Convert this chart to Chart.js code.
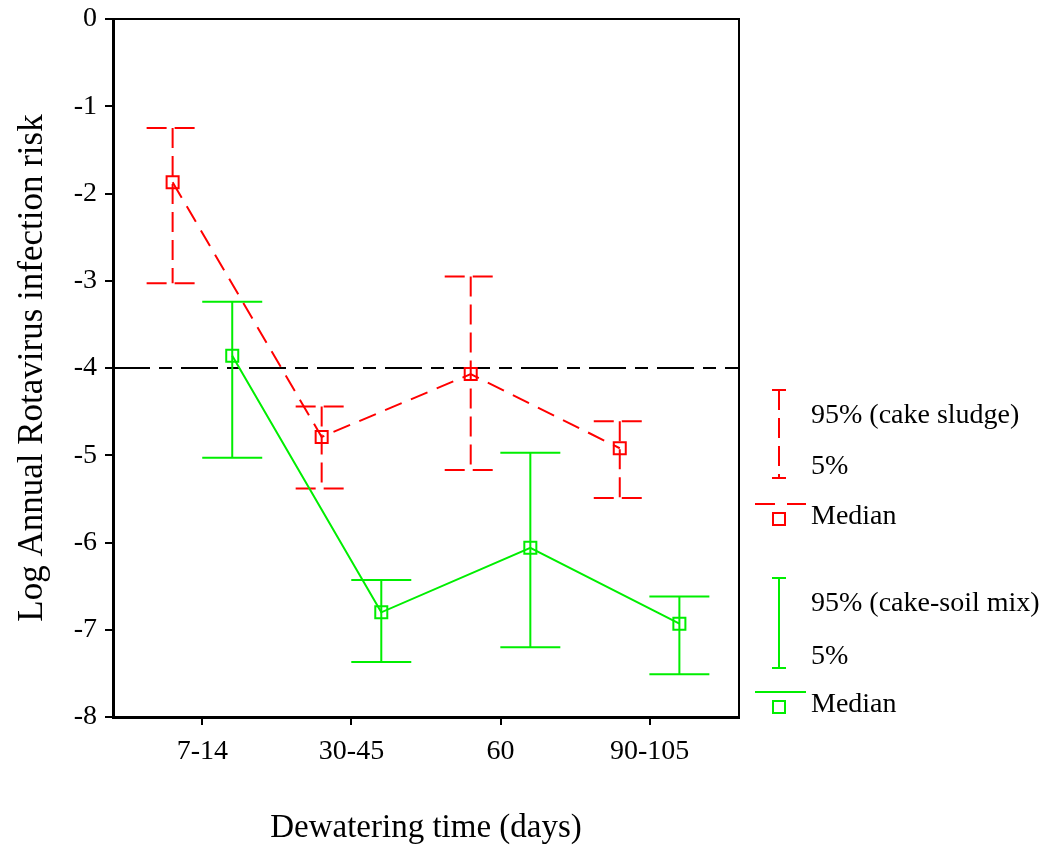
<!DOCTYPE html>
<html>
<head>
<meta charset="utf-8">
<script src="https://cdn.jsdelivr.net/npm/chart.js@4.4.0/dist/chart.umd.min.js"></script>
<style>
  html, body { margin: 0; padding: 0; background: #fff; }
  #wrap { width: 1047px; height: 850px; }
</style>
</head>
<body>
<div id="wrap"><canvas id="riskChart"></canvas></div>
<script>
// values (log10 annual infection risk)
const categories = ['7-14', '30-45', '60', '90-105'];
const sludgeMedian = [-1.87, -4.79, -4.07, -4.92];
const sludgeP95 = [-1.25, -4.44, -2.95, -4.61];
const sludgeP5 = [-3.03, -5.38, -5.17, -5.49];
const mixMedian = [-3.86, -6.80, -6.06, -6.93];
const mixP95 = [-3.24, -6.43, -4.97, -6.62];
const mixP5 = [-5.03, -7.37, -7.20, -7.51];
const yTicks = [0, -1, -2, -3, -4, -5, -6, -7, -8];
const threshold = -4;

const RED = '#ff0000';
const GREEN = '#00ee00';
const FONT = "'Liberation Serif', 'DejaVu Serif', serif";
const SHIFT = 0.2; // sludge left of the category, mix to the right

function points(values, shift) {
  return values.map((v, i) => ({ x: i + 1 + shift, y: v }));
}

function drawBars(ctx, x, y, hi, lo, shift, color, dash, half) {
  ctx.strokeStyle = color;
  ctx.lineWidth = 2;
  ctx.setLineDash(dash);
  hi.forEach((h, i) => {
    const px = x.getPixelForValue(i + 1 + shift);
    const top = y.getPixelForValue(h);
    const bot = y.getPixelForValue(lo[i]);
    ctx.beginPath();
    ctx.moveTo(px, top); ctx.lineTo(px, bot);
    ctx.moveTo(px - half, top); ctx.lineTo(px + half, top);
    ctx.moveTo(px - half, bot); ctx.lineTo(px + half, bot);
    ctx.stroke();
  });
}

const errorBars = {
  id: 'errorBars',
  beforeDatasetsDraw(chart) {
    const { ctx, chartArea, scales: { x, y } } = chart;
    ctx.save();
    ctx.strokeStyle = '#000';
    ctx.lineWidth = 2;
    ctx.setLineDash([37, 9, 13, 9]);
    const ty = y.getPixelForValue(threshold);
    ctx.beginPath();
    ctx.moveTo(chartArea.left, ty);
    ctx.lineTo(chartArea.right, ty);
    ctx.stroke();
    drawBars(ctx, x, y, sludgeP95, sludgeP5, -SHIFT, RED, [20, 8], 26);
    drawBars(ctx, x, y, mixP95, mixP5, SHIFT, GREEN, [], 30);
    ctx.restore();
  }
};

function legendGroup(ctx, sx, tx, top, bot, lineY, sqY, color, dash, label) {
  ctx.strokeStyle = color;
  ctx.lineWidth = 2;
  ctx.setLineDash(dash);
  ctx.beginPath();
  ctx.moveTo(sx, top); ctx.lineTo(sx, bot);
  ctx.stroke();
  ctx.setLineDash([]);
  ctx.beginPath();
  ctx.moveTo(sx - 7, top); ctx.lineTo(sx + 7, top);
  ctx.moveTo(sx - 7, bot); ctx.lineTo(sx + 7, bot);
  ctx.stroke();
  ctx.setLineDash(dash.length ? [20, 12] : []);
  ctx.beginPath();
  ctx.moveTo(sx - 24, lineY); ctx.lineTo(sx + 27, lineY);
  ctx.stroke();
  ctx.setLineDash([]);
  ctx.strokeRect(sx - 6, sqY - 6, 12, 12);
  ctx.fillText(label, tx, top + 26);
  ctx.fillText('5%', tx, bot - 11);
  ctx.fillText('Median', tx, sqY - 2);
}

const legendBox = {
  id: 'legendBox',
  afterDraw(chart) {
    const { ctx, chartArea } = chart;
    const sx = chartArea.right + 40;
    const tx = chartArea.right + 72;
    ctx.save();
    // top and right sides of the frame
    ctx.strokeStyle = '#000';
    ctx.lineWidth = 2;
    ctx.beginPath();
    ctx.moveTo(chartArea.left, chartArea.top);
    ctx.lineTo(chartArea.right, chartArea.top);
    ctx.lineTo(chartArea.right, chartArea.bottom);
    ctx.stroke();

    ctx.font = '28px ' + FONT;
    ctx.fillStyle = '#000';
    ctx.textBaseline = 'middle';
    ctx.textAlign = 'left';
    legendGroup(ctx, sx, tx, 390, 478, 504, 519, RED, [20, 8], '95% (cake sludge)');
    legendGroup(ctx, sx, tx, 578, 668, 692, 707, GREEN, [], '95% (cake-soil mix)');
    ctx.restore();
  }
};

const ctx = document.getElementById('riskChart').getContext('2d');
const riskChart = new Chart(ctx, {
  type: 'line',
  data: {
    datasets: [{
      label: 'Median (cake sludge)',
      data: points(sludgeMedian, -SHIFT),
      borderColor: RED,
      borderWidth: 2,
      borderDash: [18, 10],
      pointStyle: 'rect',
      pointRadius: 8.5,
      pointBorderWidth: 2,
      pointBorderColor: RED,
      pointBackgroundColor: 'rgba(0,0,0,0)',
      fill: false,
      tension: 0
    }, {
      label: 'Median (cake-soil mix)',
      data: points(mixMedian, SHIFT),
      borderColor: GREEN,
      borderWidth: 2,
      pointStyle: 'rect',
      pointRadius: 8.5,
      pointBorderWidth: 2,
      pointBorderColor: GREEN,
      pointBackgroundColor: 'rgba(0,0,0,0)',
      fill: false,
      tension: 0
    }]
  },
  options: {
    responsive: true,
    maintainAspectRatio: false,
    animation: false,
    layout: { padding: { top: 19, right: 308, left: 0, bottom: 0 } },
    plugins: {
      legend: { display: false },
      tooltip: { enabled: false }
    },
    scales: {
      x: {
        type: 'linear',
        min: 0.4,
        max: 4.6,
        afterBuildTicks: s => { s.ticks = categories.map((c, i) => ({ value: i + 1 })); },
        afterFit: s => { s.height = 133; s.paddingLeft = 0; s.paddingRight = 0; },
        ticks: {
          callback: v => categories[Math.round(v) - 1],
          font: { family: FONT, size: 28 },
          color: '#000',
          padding: 10,
          maxRotation: 0,
          autoSkip: false
        },
        grid: { drawOnChartArea: false, drawTicks: true, tickLength: 8, color: '#000', lineWidth: 2 },
        border: { display: true, color: '#000', width: 3 },
        title: {
          display: true,
          text: 'Dewatering time (days)',
          font: { family: FONT, size: 33, lineHeight: 1.33 },
          color: '#000',
          padding: 0
        }
      },
      y: {
        min: -8,
        max: 0,
        afterBuildTicks: s => { s.ticks = [...yTicks].sort((a, b) => a - b).map(v => ({ value: v })); },
        afterFit: s => { s.width = 113; s.paddingTop = 0; s.paddingBottom = 0; },
        ticks: {
          callback: v => String(v),
          font: { family: FONT, size: 28 },
          color: '#000',
          padding: 8
        },
        grid: { drawOnChartArea: false, drawTicks: true, tickLength: 8, color: '#000', lineWidth: 2 },
        border: { display: true, color: '#000', width: 3 },
        title: {
          display: true,
          text: 'Log Annual Rotavirus infection risk',
          font: { family: FONT, size: 35, lineHeight: 1.9 },
          color: '#000',
          padding: 0
        }
      }
    }
  },
  plugins: [errorBars, legendBox]
});
</script>
</body>
</html>
